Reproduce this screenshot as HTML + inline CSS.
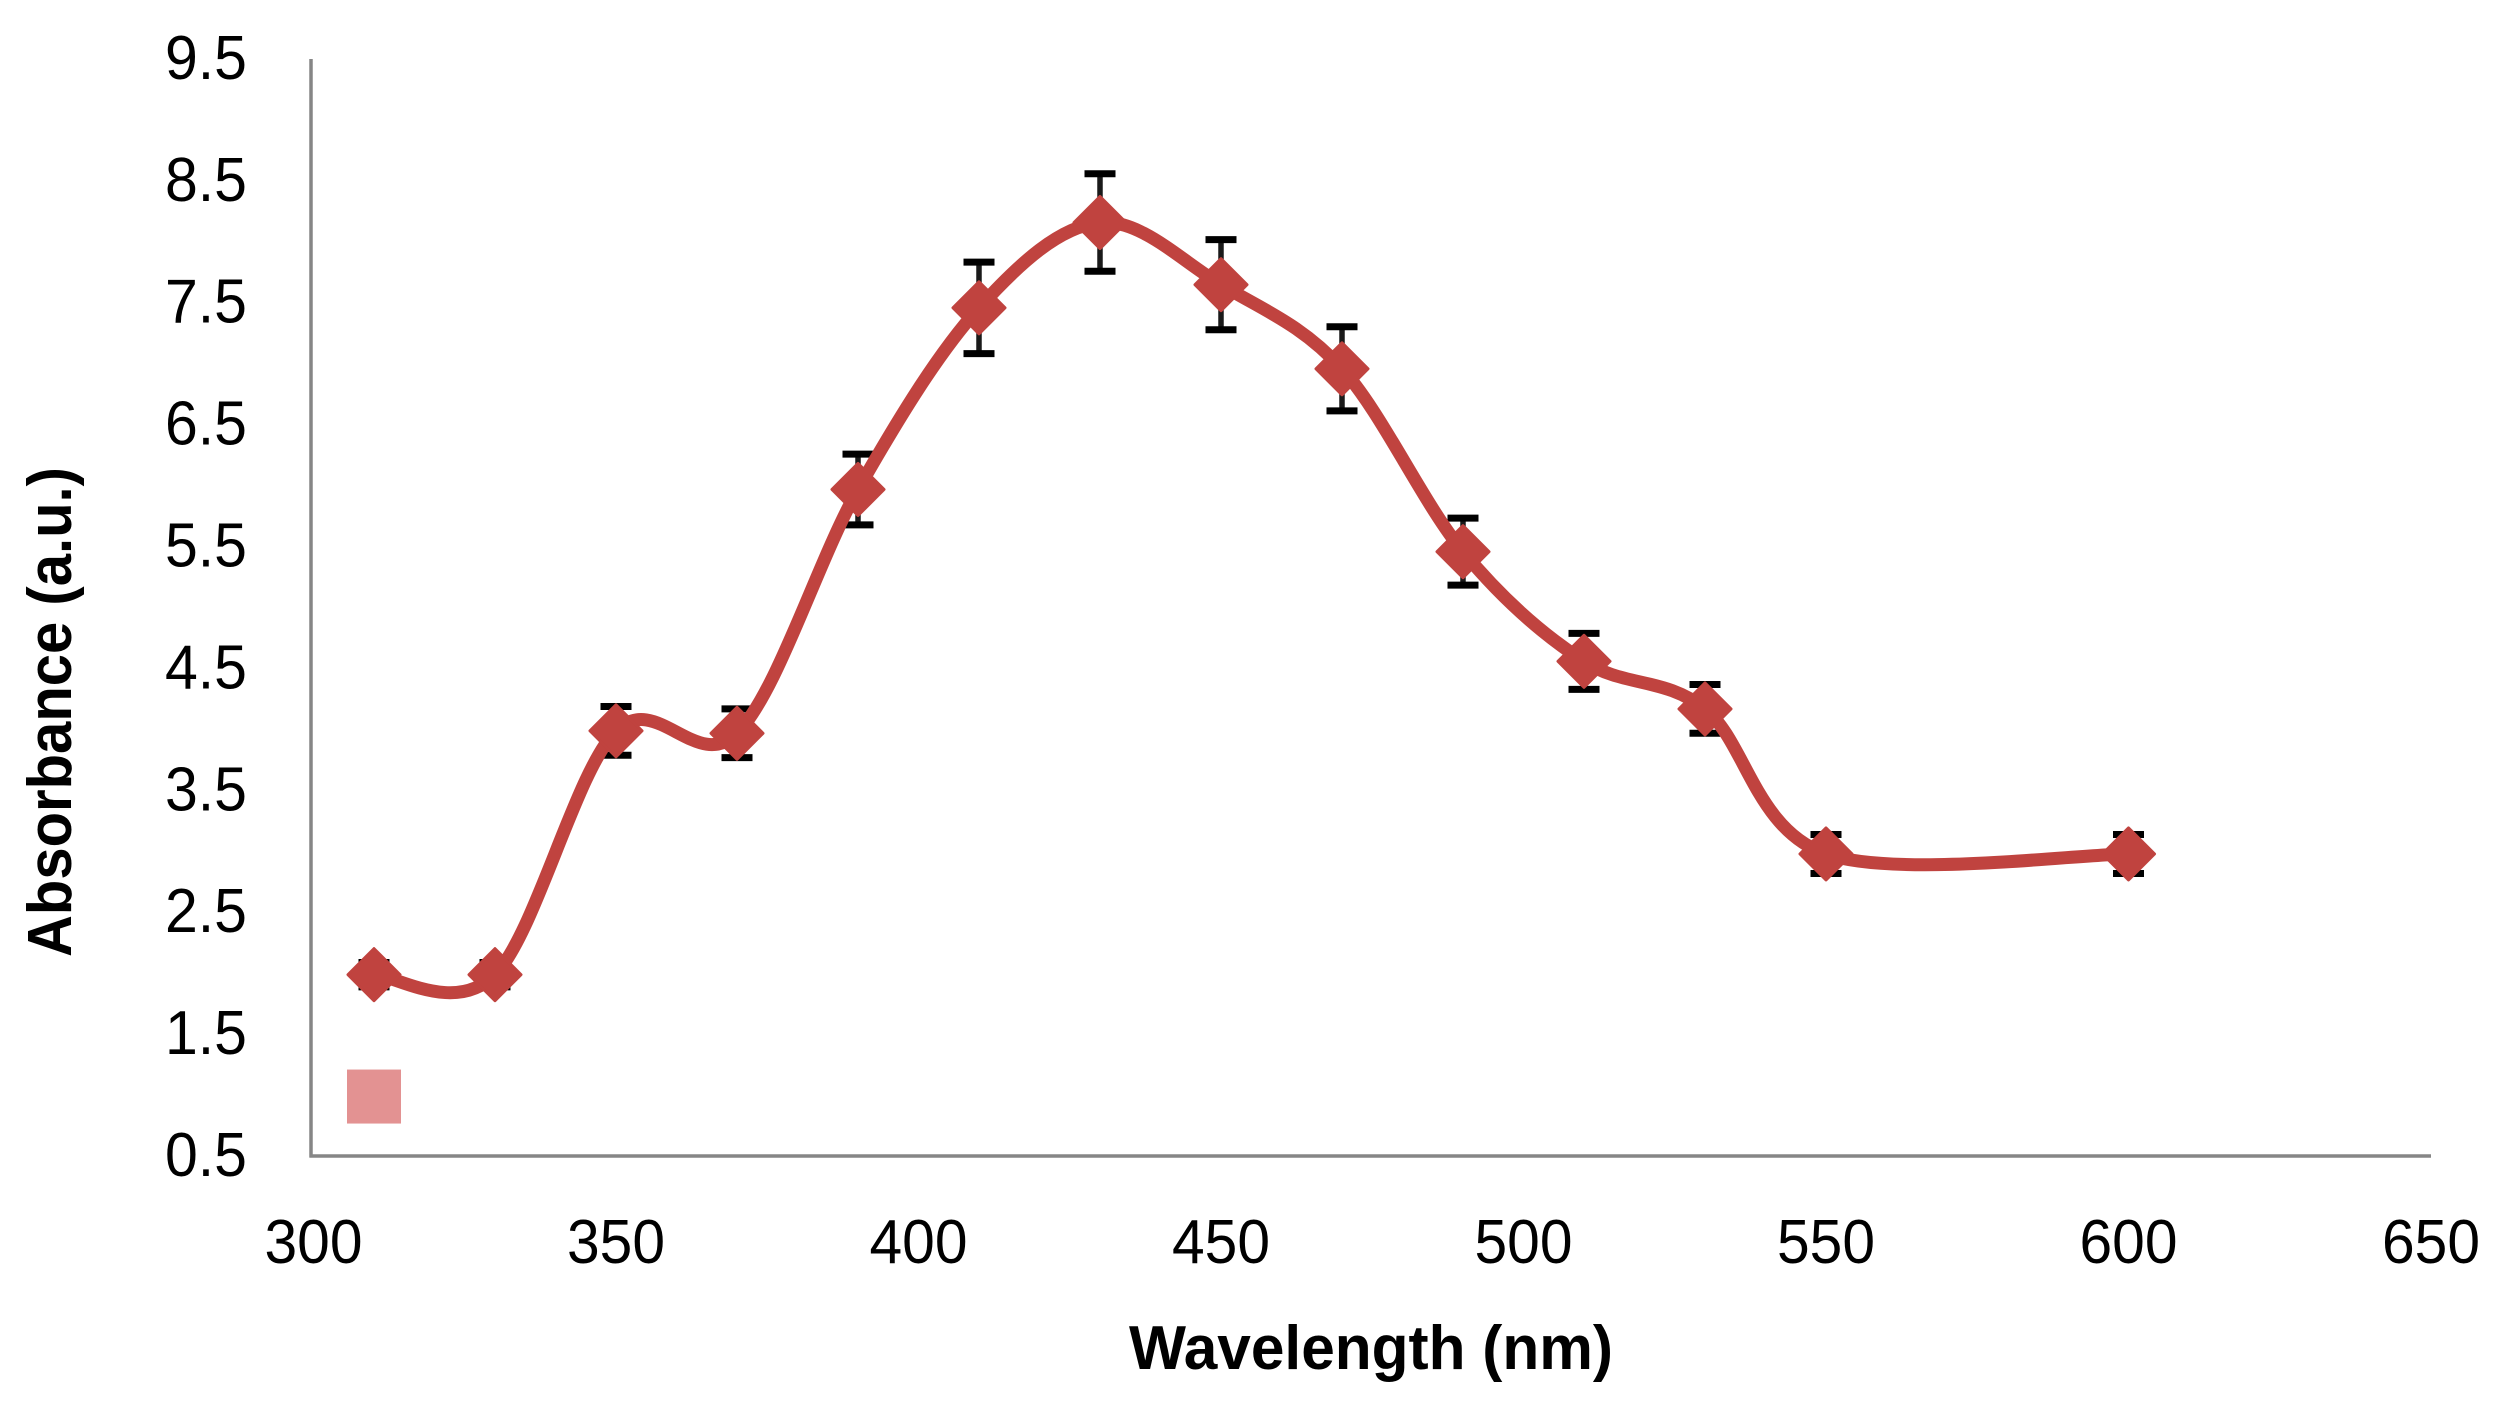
<!DOCTYPE html>
<html lang="en">
<head>
<meta charset="utf-8">
<title>Absorbance vs Wavelength</title>
<style>
html,body{margin:0;padding:0;background:#fff;width:2503px;height:1404px;overflow:hidden}
svg{display:block}
text{font-family:"Liberation Sans",sans-serif;fill:#000}
</style>
</head>
<body>
<svg id="chart" xmlns="http://www.w3.org/2000/svg" width="2503" height="1404" viewBox="0 0 2503 1404"></svg>
<script>
const wavelengths = [310, 330, 350, 370, 390, 410, 430, 450, 470, 490, 510, 530, 550, 600];
const absorbance = [2.0, 2.0, 4.0, 3.98, 5.98, 7.47, 8.17, 7.66, 6.97, 5.47, 4.57, 4.18, 2.99, 2.99];
const errorBars = [0.1, 0.1, 0.2, 0.2, 0.29, 0.375, 0.4, 0.37, 0.345, 0.275, 0.23, 0.2, 0.16, 0.16];
const outlierX = [310];
const outlierY = [1.0];
const xTickLabels = [300, 350, 400, 450, 500, 550, 600, 650];
const yTickLabels = [0.5, 1.5, 2.5, 3.5, 4.5, 5.5, 6.5, 7.5, 8.5, 9.5];

const svg = document.getElementById('chart');
const NS = 'http://www.w3.org/2000/svg';
const xScale = v => 313.5 + (v - 300) * 6.05;
const yScale = v => 1157.5 - (v - 0.5) * 121.9;

function make(tag, attrs, text) {
  const el = document.createElementNS(NS, tag);
  for (const k in attrs) el.setAttribute(k, attrs[k]);
  if (text !== undefined) el.textContent = text;
  svg.appendChild(el);
  return el;
}

const yAxis = make('line', {x1: 311, y1: 59, x2: 311, y2: 1157.5, stroke: '#868686', 'stroke-width': 3.5});


const xAxis = make('line', {x1: 309.5, y1: 1156, x2: 2431, y2: 1156, stroke: '#868686', 'stroke-width': 3.5});



yTickLabels.forEach(v => {
  const t = make('text', {x: 247, y: yScale(v) + 18.5, 'text-anchor': 'end', 'font-size': 62, textLength: 82, lengthAdjust: 'spacingAndGlyphs'}, v.toFixed(1));
  
  
});
xTickLabels.forEach(v => {
  const t = make('text', {x: xScale(v), y: 1263, 'text-anchor': 'middle', 'font-size': 62, textLength: 98, lengthAdjust: 'spacingAndGlyphs'}, String(v));
  
  
});

const xTitle = make('text', {x: 1371, y: 1369, 'text-anchor': 'middle', 'font-size': 62, 'font-weight': 'bold', textLength: 484, lengthAdjust: 'spacingAndGlyphs'}, 'Wavelength (nm)');


const yTitle = make('text', {x: 0, y: 0, transform: 'translate(71 712) rotate(-90)', 'text-anchor': 'middle', 'font-size': 62, 'font-weight': 'bold', textLength: 490, lengthAdjust: 'spacingAndGlyphs'}, 'Absorbance (a.u.)');



wavelengths.forEach((w, i) => {
  const x = xScale(w);
  const hi = yScale(absorbance[i] + errorBars[i]);
  const lo = yScale(absorbance[i] - errorBars[i]);
  const stem = make('path', {d: `M${x} ${hi}V${lo}`, stroke: '#1a1a1a', 'stroke-width': 5.5, fill: 'none'});
  
  
  const caps = make('path', {d: `M${x - 15.5} ${hi}H${x + 15.5}M${x - 15.5} ${lo}H${x + 15.5}`, stroke: '#000', 'stroke-width': 7, fill: 'none'});
  
  
});

const pts = wavelengths.map((w, i) => [xScale(w), yScale(absorbance[i])]);
let d = `M${pts[0][0]} ${pts[0][1]}`;
for (let i = 0; i < pts.length - 1; i++) {
  const p0 = pts[Math.max(i - 1, 0)], p1 = pts[i], p2 = pts[i + 1], p3 = pts[Math.min(i + 2, pts.length - 1)];
  const c1 = [p1[0] + (p2[0] - p0[0]) / 6, p1[1] + (p2[1] - p0[1]) / 6];
  const c2 = [p2[0] - (p3[0] - p1[0]) / 6, p2[1] - (p3[1] - p1[1]) / 6];
  d += `C${c1[0]} ${c1[1]} ${c2[0]} ${c2[1]} ${p2[0]} ${p2[1]}`;
}
const curve = make('path', {d: d, fill: 'none', stroke: '#C0433F', 'stroke-width': 13, 'stroke-linecap': 'round', 'stroke-linejoin': 'round'});



wavelengths.forEach((w, i) => {
  const x = xScale(w), y = yScale(absorbance[i]), r = 26;
  const m = make('path', {d: `M${x} ${y - r}L${x + r} ${y}L${x} ${y + r}L${x - r} ${y}Z`, fill: '#C0433F', stroke: '#C0433F', 'stroke-width': 3, 'stroke-linejoin': 'round'});
  
  
});

outlierX.forEach((w, i) => {
  const s = make('rect', {x: xScale(w) - 27, y: yScale(outlierY[i]) - 27, width: 54, height: 54, fill: '#E39292'});
  
  
});
</script>
</body>
</html>
